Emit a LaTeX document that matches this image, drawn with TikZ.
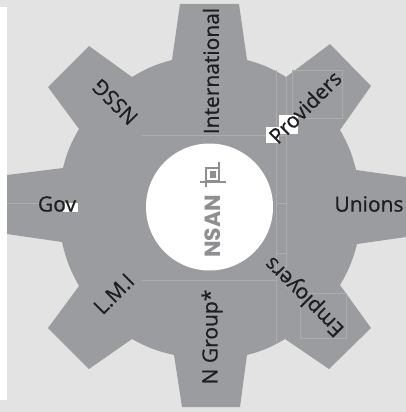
\documentclass[tikz,border=0pt]{standalone}
\usepackage{fontspec}
\setmainfont{Open Sans}
\newfontfamily\gearfont{Open Sans}[FakeBold=0.7]
\setsansfont{Poppins}
\definecolor{gearc}{HTML}{9B9C9F}
\definecolor{bgc}{HTML}{E3E3E3}
\definecolor{linec}{HTML}{ABACAF}
\definecolor{txtc}{HTML}{1E1E20}
\definecolor{logoc}{HTML}{8E8F91}
\tikzset{
  gearlabel/.style={font=\gearfont\fontsize{21}{21}\selectfont,text=txtc,inner sep=0pt},
  hairline/.style={draw=linec,line width=0.5pt},
  patch/.style={fill=white,draw=none},
  logotext/.style={font=\sffamily\bfseries\fontsize{22}{22}\selectfont,text=logoc,inner sep=0pt}
}
\begin{document}
\begin{tikzpicture}[x=1pt,y=-1pt]
\useasboundingbox (0,0) rectangle (406,412);
\fill[bgc] (0,0) rectangle (406,412);
\fill[white] (0,7) rectangle (7,400);
% gear
\fill[gearc] (180,4) -- (172,60) to[bend right=8] (132,77) -- (89,46) -- (48,87) -- (79,129)
  to[bend right=8] (63,168) -- (7,175) -- (7,234) -- (62,242) to[bend right=8] (79,286)
  -- (48,328) -- (89,369) -- (132,339) to[bend right=8] (174,355) -- (182,407)
  -- (240,407) -- (247,355) to[bend right=8] (285,339) -- (329,369) -- (371,328) -- (340,285)
  to[bend right=8] (357,244) -- (406,237) -- (406,177) -- (356,170) to[bend right=8] (340,130)
  -- (371,86) -- (330,44) -- (286,77) to[bend right=8] (247,60) -- (239,4) -- cycle;
% hairlines
\draw[hairline] (141,135) -- (286,135);
\draw[hairline] (141,280) -- (276,280);
\draw[hairline] (276,70) -- (276,343);
\draw[hairline] (276,253) -- (286,253);
\draw[hairline] (286,77) -- (286,289);
\draw[hairline] (292,70) -- (342,70) -- (342,118) -- (292,118) -- cycle;
\draw[hairline] (300,293) -- (346,293) -- (346,338) -- (300,338) -- cycle;
\draw[hairline] (7,203) -- (60,203);
\draw[hairline] (276,203) -- (286,203);
% white patches
\fill[patch] (279,115) rectangle (298,134);
\fill[patch] (266,127) rectangle (279,143);
\fill[patch] (63,203) rectangle (78,212);
% hub
\fill[white] (209.5,207) circle[radius=63.5];
% labels
\node[gearlabel,rotate=90] (intl) at (211,71) {International};
\node[gearlabel,rotate=45] (prov) at (305,107) {Providers};
\node[gearlabel] (unions) at (369,204) {Unions};
\node[gearlabel,rotate=135] (empl) at (305,296) {Employers};
\node[gearlabel,rotate=90] (ngrp) at (212,337) {N Group*};
\node[gearlabel,rotate=45] (lmi) at (114,294) {L.M.I};
\node[gearlabel] (gov) at (57,204) {Gov};
\node[gearlabel,rotate=135] (nssg) at (115,102) {NSSG};
\node[logotext,rotate=90] (nsan) at (212.5,226.5) {NSAN};
% logo icon
\draw[logoc,line width=1.6pt] (206,168) rectangle (219,181);
\fill[logoc] (209.5,171) rectangle (215.5,178);
\draw[logoc,line width=1.6pt] (200,182) -- (226,182);
\draw[logoc,line width=1.6pt] (206,181) -- (206,187);
\draw[logoc,line width=1.6pt] (219,162) -- (219,181);
\end{tikzpicture}
\end{document}
